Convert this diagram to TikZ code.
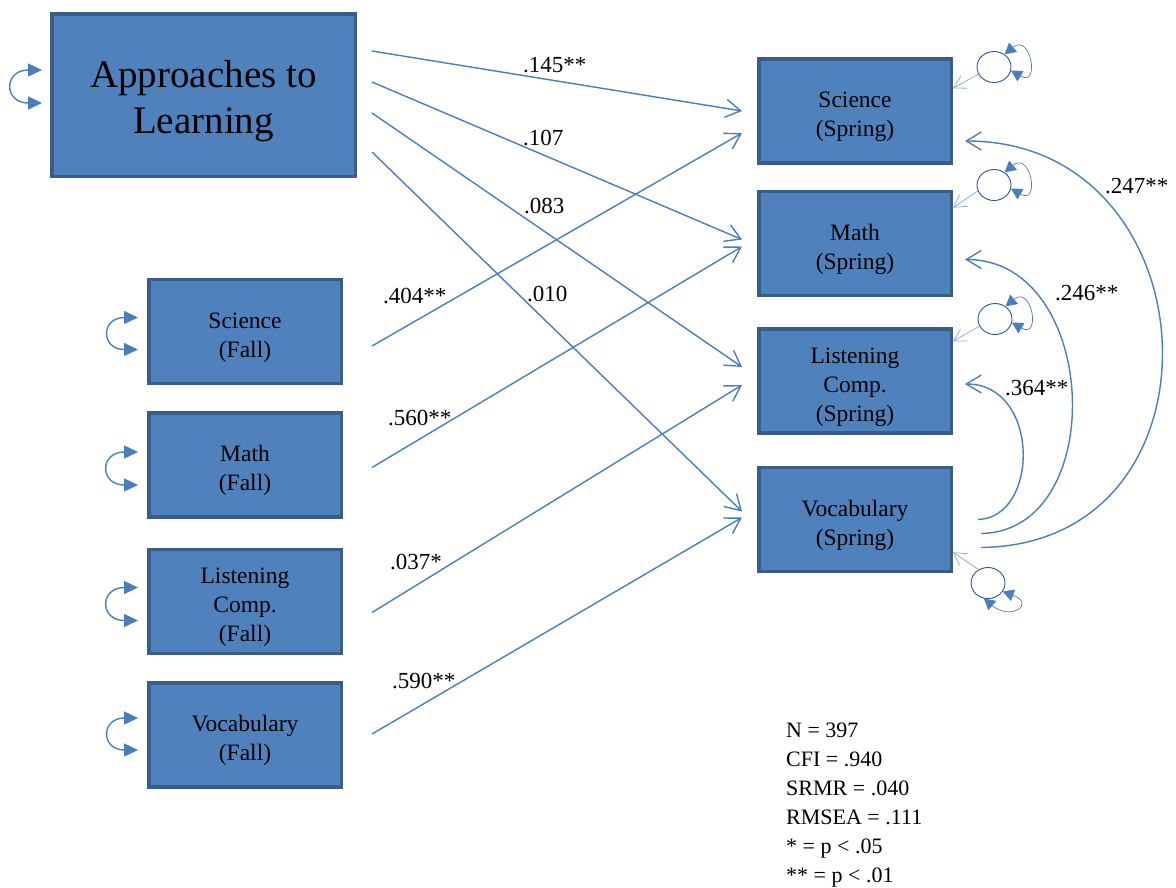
\documentclass[tikz,border=0pt]{standalone}
\usepackage{fontspec}
\setmainfont{Liberation Serif}
\usetikzlibrary{arrows.meta, positioning, shapes.geometric}
\definecolor{boxfill}{HTML}{4F81BD}
\definecolor{boxline}{HTML}{385D8A}
\definecolor{pathblue}{HTML}{4A7EBB}
\definecolor{errline}{HTML}{2F528F}
\definecolor{errarrow}{HTML}{8EB0DC}
% box text, lowered a little to sit as in the figure
\newcommand{\boxtext}[2][11.5pt]{\raisebox{-#1}[0pt][0pt]{\begin{tabular}{@{}c@{}}#2\end{tabular}}}
\tikzset{%
    varbox/.style = {draw=boxline, fill=boxfill, rectangle, line width=3.5pt,
        minimum width=192.5pt, minimum height=104pt, inner sep=2pt,
        font=\fontsize{23.5}{29}\selectfont},
    errnode/.style = {draw=errline, fill=white, ellipse, line width=0.9pt,
        minimum width=34pt, minimum height=31pt, inner sep=0pt},
    regline/.style = {draw=pathblue, line width=1.4pt,
        -{Straight Barb[length=15pt, width=18pt]}},
    varloop/.style = {draw=pathblue, line width=1.4pt,
        {Triangle[length=14pt, width=13pt]}-{Triangle[length=14pt, width=13pt]}},
    errloop/.style = {draw=pathblue, line width=0.7pt,
        {Triangle[length=11pt, width=12pt]}-{Triangle[length=11pt, width=12pt]}},
    errarr/.style = {draw=errarrow, line width=0.8pt,
        -{Straight Barb[length=12pt, width=14pt]}},
    coef/.style = {font=\fontsize{23}{27}\selectfont, inner sep=0pt, anchor=base west},
}
\begin{document}
\begin{tikzpicture}[x=1pt, y=1pt]
    \useasboundingbox (0,0) rectangle (1176,-887);
    % predictors
    \node [varbox, minimum width=303.5pt, minimum height=162.5pt,
        font=\fontsize{39}{46}\selectfont] (app) at (203.5,-95) {\boxtext[13pt]{Approaches to\\Learning}};
    \node [varbox] (sciF) at (245,-331.5) {\boxtext{Science\\(Fall)}};
    \node [varbox, below=26pt of sciF] (mathF) {\boxtext{Math\\(Fall)}};
    \node [varbox, below=29pt of mathF] (lisF) {\boxtext{Listening\\Comp.\\(Fall)}};
    \node [varbox, below=26pt of lisF] (vocF) {\boxtext{Vocabulary\\(Fall)}};
    % outcomes
    \node [varbox] (sciS) at (855,-111) {\boxtext{Science\\(Spring)}};
    \node [varbox, below=25pt of sciS] (mathS) {\boxtext{Math\\(Spring)}};
    \node [varbox, below=30pt of mathS] (lisS) {\boxtext{Listening\\Comp.\\(Spring)}};
    \node [varbox, below=31pt of lisS] (vocS) {\boxtext{Vocabulary\\(Spring)}};
    % residuals
    \node [errnode] (e1) at (994,-67) {};
    \node [errnode] (e2) at (994,-185) {};
    \node [errnode] (e3) at (995,-319) {};
    \node [errnode] (e4) at (988,-583) {};
    % variances
    \draw [varloop] ([xshift=-8pt,yshift=25pt]app.west) to[out=180,in=180,looseness=3] ([xshift=-8pt,yshift=-8pt]app.west);
    \draw [varloop] ([xshift=-9pt,yshift=14pt]sciF.west) to[out=180,in=180,looseness=3] ([xshift=-9pt,yshift=-18pt]sciF.west);
    \draw [varloop] ([xshift=-9pt,yshift=13pt]mathF.west) to[out=180,in=180,looseness=3] ([xshift=-9pt,yshift=-20pt]mathF.west);
    \draw [varloop] ([xshift=-9pt,yshift=14pt]lisF.west) to[out=180,in=180,looseness=3] ([xshift=-9pt,yshift=-19pt]lisF.west);
    \draw [varloop] ([xshift=-9pt,yshift=17pt]vocF.west) to[out=180,in=180,looseness=3] ([xshift=-9pt,yshift=-15pt]vocF.west);
    \draw [errloop] (e1.50) to[out=40,in=-30,looseness=5] (e1.-12);
    \draw [errloop] (e2.50) to[out=40,in=-30,looseness=5] (e2.-12);
    \draw [errloop] (e3.50) to[out=40,in=-30,looseness=5] (e3.-12);
    \draw [errloop] (e4.-30) to[out=-20,in=-40,looseness=4.5] (e4.-105);
    \draw [errarr] (e1.205) -- ([yshift=-31pt]sciS.north east);
    \draw [errarr] (e2.200) -- ([yshift=-18pt]mathS.north east);
    \draw [errarr] (e3.205) -- ([yshift=-14pt]lisS.north east);
    \draw [errarr] (e4.125) -- ([yshift=21pt]vocS.south east);
    % paths
    \path [regline] ([xshift=15pt,yshift=44pt]app.east) -- ([xshift=-15pt]sciS.west);
    \path [regline] ([xshift=15pt,yshift=13pt]app.east) -- ([xshift=-15pt,yshift=4pt]mathS.west);
    \path [regline] ([xshift=15pt,yshift=-18pt]app.east) -- ([xshift=-15pt,yshift=14pt]lisS.west);
    \path [regline] ([xshift=15pt,yshift=-57pt]app.east) -- ([xshift=-15pt,yshift=8pt]vocS.west);
    \path [regline] ([xshift=29pt,yshift=-14.5pt]sciF.east) -- ([xshift=-15pt,yshift=-22pt]sciS.west);
    \path [regline] ([xshift=29pt,yshift=-2.5pt]mathF.east) -- ([xshift=-15pt,yshift=-3pt]mathS.west);
    \path [regline] ([xshift=29pt,yshift=-11pt]lisF.east) -- ([xshift=-15pt,yshift=-4pt]lisS.west);
    \path [regline] ([xshift=29pt,yshift=1pt]vocF.east) -- ([xshift=-15pt,yshift=2pt]vocS.west);
    % covariances
    \path [regline] ([xshift=28pt,yshift=-28pt]vocS.east) .. controls +(254,3) and +(250,0) .. ([xshift=12pt,yshift=-30pt]sciS.east);
    \path [regline] ([xshift=28pt,yshift=-14pt]vocS.east) .. controls +(129,2) and +(135,0) .. ([xshift=12pt,yshift=-16pt]mathS.east);
    \path [regline] ([xshift=25pt]vocS.east) .. controls +(62,2) and +(75,0) .. ([xshift=12pt,yshift=-3pt]lisS.east);
    % estimates
    \node [coef] (c1) at (523,-72) {.145**};
    \node [coef] (c2) at (523,-145) {.107};
    \node [coef] (c3) at (524,-213) {.083};
    \node [coef] (c4) at (527,-301) {.010};
    \node [coef] (c5) at (383,-303) {.404**};
    \node [coef] (c6) at (388,-425) {.560**};
    \node [coef] (c7) at (390,-569) {.037*};
    \node [coef] (c8) at (392,-688) {.590**};
    \node [coef] (c9) at (1105,-193) {.247**};
    \node [coef] (c10) at (1055,-300) {.246**};
    \node [coef] (c11) at (1005,-395) {.364**};
    \node [anchor=north west, inner sep=0pt, align=left,
        font=\fontsize{22}{29}\selectfont] (fit) at (786,-723)
        {N = 397\\CFI = .940\\SRMR = .040\\RMSEA = .111\\* = p < .05\\** = p < .01};
\end{tikzpicture}
\end{document}
